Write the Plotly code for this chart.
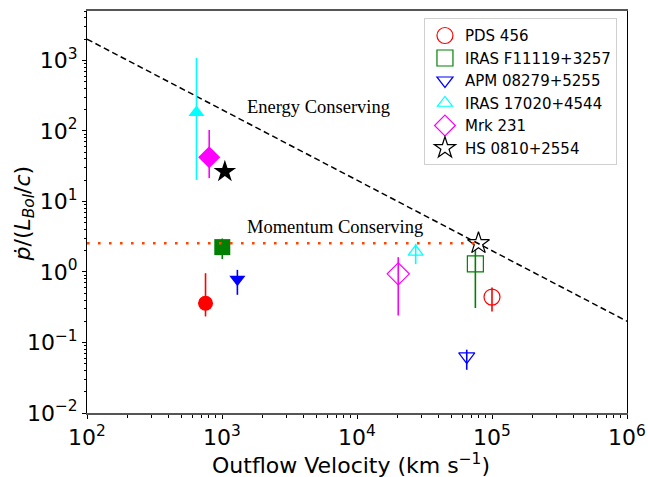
import plotly.graph_objects as go

# ---------------- data ----------------
names = ["PDS 456", "IRAS F11119+3257", "APM 08279+5255",
         "IRAS 17020+4544", "Mrk 231", "HS 0810+2554"]

# slow (filled) components
v_slow = [755, 1005, 1300, 647, 804, 1050]
p_slow = [0.36, 2.25, 0.79, 183, 42.4, 26.5]
p_slow_hi = [0.96, 2.98, 1.07, 1080, 103, None]
p_slow_lo = [0.234, 1.52, 0.474, 20.2, 21.4, None]

# fast (open) components
v_fast = [1.0e5, 75300, 65000, 27200, 20200, 79400]
p_fast = [0.44, 1.30, 0.0634, 1.93, 0.94, 2.55]
p_fast_hi = [0.60, 2.06, 0.079, 2.51, 1.62, None]
p_fast_lo = [0.275, 0.308, 0.041, 1.29, 0.241, None]

# reference relations
energy_v = [1e2, 1e6]
energy_p = [2000, 0.2]
momentum_v = [1e2, 8e4]
momentum_p = [2.55, 2.55]

# tick labels
x_tickvals = [1e2, 1e3, 1e4, 1e5, 1e6]
x_ticktext = ["10<sup>2</sup>", "10<sup>3</sup>", "10<sup>4</sup>", "10<sup>5</sup>", "10<sup>6</sup>"]
y_tickvals = [1e-2, 1e-1, 1e0, 1e1, 1e2, 1e3]
y_ticktext = ["10<sup>−2</sup>", "10<sup>−1</sup>", "10<sup>0</sup>",
              "10<sup>1</sup>", "10<sup>2</sup>", "10<sup>3</sup>"]

# ---------------- styles ----------------
colors = ["#ff0000", "#008000", "#0000ff", "#00ffff", "#ff00ff", "#000000"]
symbols = ["circle", "square", "triangle-down", "triangle-up", "diamond", "star"]
size_slow = [15, 16, 14, 14, 17, 17]
size_fast = [16, 16, 14, 13, 17, 16.5]

FONT = "DejaVu Sans"


def minor_vals(lo, hi):
    out = []
    for e in range(lo, hi):
        for m in range(2, 10):
            out.append(m * 10.0 ** e)
    return out


fig = go.Figure()

fig.add_trace(go.Scatter(x=energy_v, y=energy_p, mode="lines",
                         line=dict(color="black", width=1.5, dash="6px,3.5px"),
                         showlegend=False, hoverinfo="skip"))


def errbar(val, hi, lo, color):
    if hi is None:
        return dict(visible=False)
    return dict(type="data", symmetric=False, array=[hi - val], arrayminus=[val - lo],
                color=color, thickness=1.6, width=0)


for i, name in enumerate(names):
    fig.add_trace(go.Scatter(x=[v_slow[i]], y=[p_slow[i]], mode="markers",
                             marker=dict(symbol=symbols[i], size=size_slow[i],
                                         color=colors[i], line=dict(width=0)),
                             error_y=errbar(p_slow[i], p_slow_hi[i], p_slow_lo[i], colors[i]),
                             showlegend=False, name=name))

for i, name in enumerate(names):
    fig.add_trace(go.Scatter(x=[v_fast[i]], y=[p_fast[i]], mode="markers",
                             marker=dict(symbol=symbols[i] + "-open", size=size_fast[i],
                                         color=colors[i], line=dict(width=1.2, color=colors[i])),
                             error_y=errbar(p_fast[i], p_fast_hi[i], p_fast_lo[i], colors[i]),
                             showlegend=True, name=name))

fig.add_trace(go.Scatter(x=momentum_v, y=momentum_p, mode="lines",
                         line=dict(color="#ff4500", width=2.6, dash="2.6px,8.4px"),
                         showlegend=False, hoverinfo="skip"))

fig.add_annotation(x=3.169, y=2.34, xref="x", yref="y", text="Energy Conserving",
                   showarrow=False, xanchor="left", yanchor="middle",
                   font=dict(family="Liberation Serif", size=18.5, color="black"))
fig.add_annotation(x=3.169, y=0.639, xref="x", yref="y", text="Momentum Conserving",
                   showarrow=False, xanchor="left", yanchor="middle",
                   font=dict(family="Liberation Serif", size=18.5, color="black"))

# axis titles as annotations for precise placement
fig.add_annotation(x=0.489, y=-0.127, xref="paper", yref="paper",
                   text="Outflow Velocity (km s<sup>−1</sup>)",
                   showarrow=False, xanchor="center", yanchor="middle",
                   font=dict(family=FONT, size=22, color="black"))
fig.add_annotation(x=-0.1155, y=0.4954, xref="paper", yref="paper",
                   text="<i>ṗ</i>/(<i>L</i><sub><i>Bol</i></sub>/<i>c</i>)",
                   textangle=-90, showarrow=False, xanchor="center", yanchor="middle",
                   font=dict(family=FONT, size=22, color="black"))

fig.update_layout(
    width=648, height=477,
    margin=dict(l=87, r=21, t=11, b=64),
    paper_bgcolor="white", plot_bgcolor="white",
    font=dict(family=FONT, size=22, color="black"),
    legend=dict(x=0.624, y=0.982, xanchor="left", yanchor="top",
                bgcolor="white", bordercolor="#d0d0d0", borderwidth=1,
                font=dict(family=FONT, size=15, color="black"),
                traceorder="normal"),
)

fig.update_xaxes(type="log", range=[2, 6], showgrid=False, zeroline=False, automargin=False,
                 showline=True, linecolor="#555555", linewidth=2, mirror=True,
                 ticks="outside", ticklen=4, tickcolor="black", tickwidth=1,
                 tickmode="array", tickvals=x_tickvals, ticktext=x_ticktext,
                 minor=dict(ticks="outside", ticklen=2.5, tickcolor="black", showgrid=False,
                            tickmode="array", tickvals=minor_vals(2, 6)),
                 tickfont=dict(family=FONT, size=22))
fig.update_yaxes(type="log", range=[-2, 3.7], showgrid=False, zeroline=False, automargin=False,
                 showline=True, linecolor="black", linewidth=1, mirror=True,
                 ticks="outside", ticklen=4, tickcolor="black", tickwidth=1,
                 tickmode="array", tickvals=y_tickvals, ticktext=y_ticktext,
                 minor=dict(ticks="outside", ticklen=2.5, tickcolor="black", showgrid=False,
                            tickmode="array", tickvals=minor_vals(-2, 4)),
                 tickfont=dict(family=FONT, size=22))

fig.write_html("out.html", config={"displayModeBar": False},
               post_script="document.body.style.margin='0';")
